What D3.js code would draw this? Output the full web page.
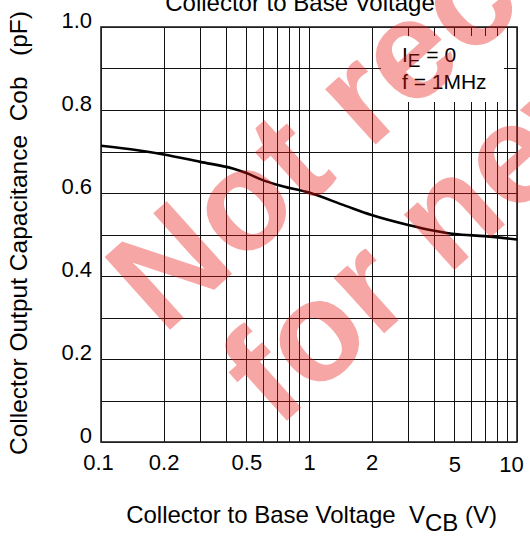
<!DOCTYPE html>
<html>
<head>
<meta charset="utf-8">
<script src="https://cdn.jsdelivr.net/npm/d3@7"></script>
<style>
  html, body { margin: 0; padding: 0; background: #fff; }
  svg { display: block; }
  text { font-family: "Liberation Sans", Arial, sans-serif; fill: #000; }
</style>
</head>
<body>
<svg id="chart" width="530" height="545"></svg>
<script>
// ---- data ----
const vcb = [0.1, 0.15, 0.2, 0.3, 0.43, 0.5, 0.6, 0.7, 1, 1.5, 2, 3, 4, 5, 7, 10];
const cob = [0.714, 0.703, 0.693, 0.675, 0.659, 0.648, 0.631, 0.620, 0.601, 0.569, 0.547, 0.523, 0.509, 0.501, 0.496, 0.488];
const xTickValues = [0.1, 0.2, 0.5, 1, 2, 5, 10];
const xTickLabels = ["0.1", "0.2", "0.5", "1", "2", "5", "10"];
const yTickValues = [0, 0.2, 0.4, 0.6, 0.8, 1.0];
const yTickLabels = ["0", "0.2", "0.4", "0.6", "0.8", "1.0"];
const xGridValues = [0.1,0.2,0.3,0.4,0.5,0.6,0.7,0.8,0.9,1,2,3,4,5,6,7,8,9,10];
const yGridValues = [0,0.1,0.2,0.3,0.4,0.5,0.6,0.7,0.8,0.9,1.0];
const titleText = "Collector to Base Voltage";
const xTitle = ["Collector to Base Voltage  V", "CB", " (V)"];
const yTitle = "Collector Output Capacitance  Cob   (pF)";
const condLines = [["I", "E", " = 0"], ["f = 1MHz", "", ""]];
const watermarkLines = ["Not recommended", "for new design"];

// ---- layout ----
const svg = d3.select("#chart");
const M = { left: 101, right: 517, top: 27, bottom: 442 };
const x = d3.scaleLog().domain([0.1, 10]).range([M.left, M.right]);
const y = d3.scaleLinear().domain([0, 1]).range([M.bottom, M.top]);

// grid
const grid = svg.append("g").attr("stroke", "#111").attr("stroke-width", 1).attr("shape-rendering", "crispEdges");
grid.selectAll("line.v").data(xGridValues).join("line")
  .attr("x1", d => Math.round(x(d)) + 0.5).attr("x2", d => Math.round(x(d)) + 0.5)
  .attr("y1", M.top).attr("y2", M.bottom);
grid.selectAll("line.h").data(yGridValues).join("line")
  .attr("y1", d => Math.round(y(d)) + 0.5).attr("y2", d => Math.round(y(d)) + 0.5)
  .attr("x1", M.left).attr("x2", M.right);

// condition box (white background interrupting grid)
svg.append("rect").attr("x", 381).attr("y", 36).attr("width", 123).attr("height", 66).attr("fill", "#fff");

// frame
svg.append("rect").attr("x", M.left).attr("y", M.top)
  .attr("width", M.right - M.left).attr("height", M.bottom - M.top)
  .attr("fill", "none").attr("stroke", "#222").attr("stroke-width", 1.6);

// axes (labels only)
const xAxis = d3.axisBottom(x).tickValues(xTickValues).tickSize(0)
  .tickFormat((d, i) => xTickLabels[i]);
const gx = svg.append("g").attr("transform", `translate(0,${M.bottom})`).call(xAxis);
gx.select(".domain").remove();
gx.selectAll("text").attr("font-size", 22).attr("dy", 0)
  .attr("font-family", '"Liberation Sans", Arial, sans-serif').attr("fill", "#000")
  .attr("dx", (d) => d === 10 ? -6 : (d === 0.1 ? -3 : 0))
  .attr("y", (d) => d >= 5 ? 30 : 28);

const yAxis = d3.axisLeft(y).tickValues(yTickValues).tickSize(0)
  .tickFormat((d, i) => yTickLabels[i]);
const gy = svg.append("g").attr("transform", `translate(${M.left},0)`).call(yAxis);
gy.select(".domain").remove();
gy.selectAll("text").attr("font-size", 22).attr("x", -9).attr("dy", 0)
  .attr("font-family", '"Liberation Sans", Arial, sans-serif').attr("fill", "#000");

// curve
const line = d3.line().x((d, i) => x(vcb[i])).y(d => y(d)).curve(d3.curveMonotoneX);
svg.append("path").datum(cob).attr("d", line)
  .attr("fill", "none").attr("stroke", "#000").attr("stroke-width", 2.6);

// condition text
const cond = svg.append("g");
condLines.forEach((parts, i) => {
  const t = cond.append("text").attr("x", 402).attr("y", i === 0 ? 62 : 89).attr("font-size", 21);
  t.append("tspan").text(parts[0]);
  if (parts[1]) t.append("tspan").attr("dy", 5).attr("font-size", 19).text(parts[1]);
  if (parts[2]) t.append("tspan").attr("dy", -5).text("\u00a0= 0");
});

// title (cut at top)
svg.append("text").attr("x", 300).attr("y", 11).attr("text-anchor", "middle")
  .attr("font-size", 24).text(titleText);

// x-axis title
const xt = svg.append("text").attr("x", 497).attr("y", 523).attr("text-anchor", "end")
  .attr("font-size", 24).style("white-space", "pre");
xt.append("tspan").text(xTitle[0]);
xt.append("tspan").attr("dy", 8).text(xTitle[1]);
xt.append("tspan").attr("dy", -8).text(xTitle[2]);

// y-axis title
svg.append("text").attr("transform", "translate(27,455) rotate(-90)")
  .attr("text-anchor", "start").attr("font-size", 24.5).style("white-space", "pre")
  .text(yTitle);

// watermark
const wm = svg.append("g").attr("transform", "translate(163,336) rotate(-42)");
watermarkLines.forEach((s, i) => {
  wm.append("text").attr("x", i === 0 ? 0 : 22).attr("y", i * 146)
    .attr("font-size", 142).attr("font-weight", "bold")
    .style("fill", "rgba(235,20,20,0.38)").text(s);
});
</script>
</body>
</html>
